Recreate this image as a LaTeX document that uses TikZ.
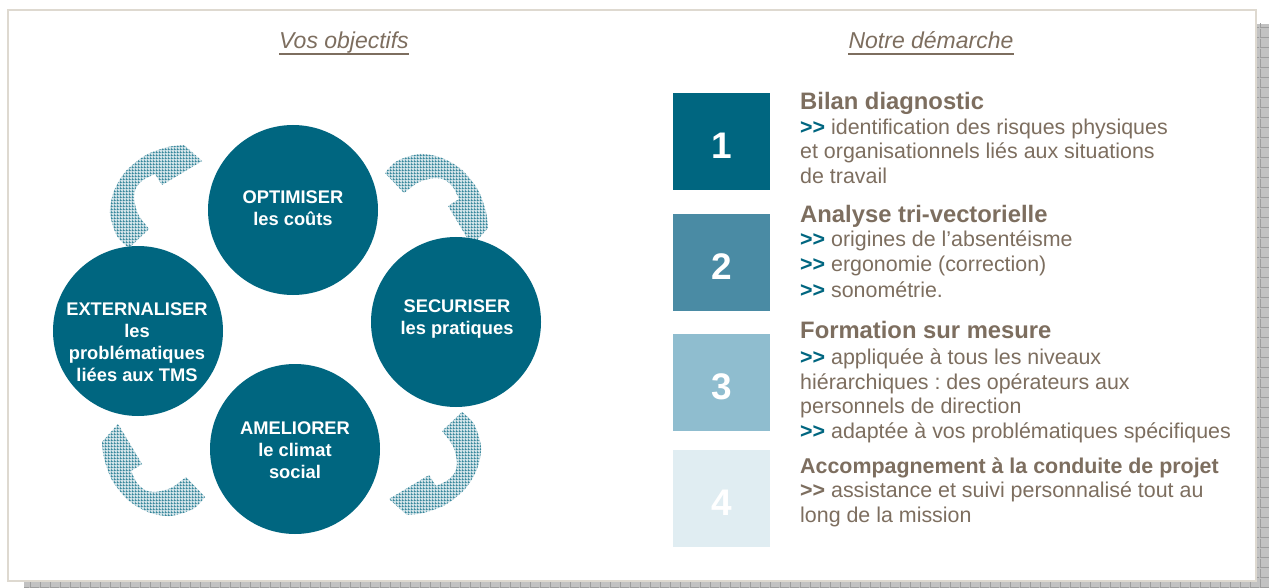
\documentclass[tikz,border=0pt]{standalone}
\usepackage{fontspec}
\setmainfont{Liberation Sans}
\usetikzlibrary{patterns}
\usetikzlibrary{calc}

\definecolor{petrol}{RGB}{0,102,128}
\definecolor{petrolmid}{RGB}{74,139,164}
\definecolor{petrollight}{RGB}{143,189,207}
\definecolor{petrolpale}{RGB}{224,237,242}
\definecolor{taupe}{RGB}{125,110,95}
\definecolor{framegray}{RGB}{222,217,208}

\pgfdeclarepatternformonly{mesh}{\pgfqpoint{0pt}{0pt}}{\pgfqpoint{3pt}{3pt}}{\pgfqpoint{3pt}{3pt}}{%
  \pgfsetlinewidth{0.9pt}
  \pgfpathmoveto{\pgfqpoint{0.5pt}{0pt}}\pgfpathlineto{\pgfqpoint{0.5pt}{3pt}}
  \pgfpathmoveto{\pgfqpoint{0pt}{0.5pt}}\pgfpathlineto{\pgfqpoint{3pt}{0.5pt}}
  \pgfusepath{stroke}}
\pgfdeclarepatternformonly{cells}{\pgfqpoint{0pt}{0pt}}{\pgfqpoint{10pt}{10pt}}{\pgfqpoint{10pt}{10pt}}{%
  \pgfsetlinewidth{1pt}
  \pgfpathmoveto{\pgfqpoint{0.5pt}{0pt}}\pgfpathlineto{\pgfqpoint{0.5pt}{10pt}}
  \pgfpathmoveto{\pgfqpoint{0pt}{0.5pt}}\pgfpathlineto{\pgfqpoint{10pt}{0.5pt}}
  \pgfusepath{stroke}}

\tikzstyle{goal}=[circle,fill=petrol,minimum size=170pt,inner sep=0pt]
\tikzstyle{goaltext}=[text=white,align=center,inner sep=0pt,font=\fontsize{18.3}{22}\selectfont\bfseries]
\tikzstyle{stepbox}=[minimum width=97pt,minimum height=97pt,inner sep=0pt]
\tikzstyle{stepnum}=[inner sep=0pt,text=white,font=\fontsize{37}{40}\selectfont\bfseries]
\tikzstyle{stephead}=[anchor=base west,inner sep=0pt,text=taupe,font=\fontsize{23.8}{28}\selectfont\bfseries]
\tikzstyle{steptext}=[anchor=base west,inner sep=0pt,text=taupe,font=\fontsize{21.4}{24.5}\selectfont\frenchspacing]
\tikzstyle{coltitle}=[anchor=base,inner sep=0pt,text depth=5pt,text=taupe,font=\fontsize{23}{27}\selectfont\itshape]
\tikzstyle{cyclearrow}=[fill=petrol!18,postaction={pattern=mesh,pattern color=petrol!85}]

\newcommand{\chev}[1][petrol]{{\bfseries\color{#1}>{}>}\ }

\begin{document}
\begin{tikzpicture}[x=1pt,y=-1pt]

\useasboundingbox (0,0) rectangle (1269,588);

% shadow and frame
\fill[black!24,postaction={pattern=cells,pattern color=black!38}] (24,24) rectangle (1269,588);
\draw[framegray,line width=2pt,fill=white] (8,10) rectangle (1256,581);

% column titles
\node[coltitle] (objectifs) at (344,49) {Vos objectifs};
\node[coltitle] (demarche) at (931,49) {Notre démarche};
\draw[taupe,line width=1.8pt] (objectifs.south west) -- (objectifs.south east);
\draw[taupe,line width=1.8pt] (demarche.south west) -- (demarche.south east);

% curved arrows of the cycle
\foreach \ang/\dx/\dy in {0/0/0, -90/10/-8, -180/0/10, -270/-9/8}
  \fill[cyclearrow,shift={(295+\dx,330+\dy)},rotate=\ang]
    plot[smooth] coordinates {(90,-157) (102,-169) (125,-176) (147,-172) (167,-160) (183,-140) (191,-118) (193,-102)}
    -- (177,-84) -- (153,-124)
    -- plot[smooth] coordinates {(164,-131) (158,-143) (150,-150) (140,-152) (124,-148) (109,-137)} -- cycle;

% objectives
\node[goal] (optimiser) at (293,210) {};
\node[goal] (securiser) at (456,322) {};
\node[goal] (externaliser) at (138,331) {};
\node[goal] (ameliorer) at (295,449) {};

\node[goaltext] (optimiser-t) at (293,208.5) {OPTIMISER\\les coûts};
\node[goaltext] (securiser-t) at (457,319.5) {SECURISER\\les pratiques};
\node[goaltext] (externaliser-t) at (137,342) {EXTERNALISER\\les\\problématiques\\liées aux TMS};
\node[goaltext] (ameliorer-t) at (295,450) {AMELIORER\\le climat\\social};

% steps
\foreach \pos/\col/\num in {{(721.5,141.5)/petrol/1}, {(721.5,262.5)/petrolmid/2}, {(721.5,382.5)/petrollight/3}, {(721.5,498.5)/petrolpale/4}}{
  \node[stepbox,fill=\col] (step\num) at \pos {};
  \node[stepnum] (num\num) at ($(step\num)+(0,4)$) {\num};
}

\node[stephead] (head1) at (800,110) {Bilan diagnostic};
\node[steptext] (text1a) at (800,135) {\chev identification des risques physiques};
\node[steptext] (text1b) at (800,159) {et organisationnels liés aux situations};
\node[steptext] (text1c) at (800,184) {de travail};

\node[stephead] (head2) at (800,223) {Analyse tri-vectorielle};
\node[steptext] (text2a) at (800,247) {\chev origines de l’absentéisme};
\node[steptext] (text2b) at (800,272) {\chev ergonomie (correction)};
\node[steptext] (text2c) at (800,297) {\chev sonométrie.};

\node[stephead] (head3) at (800,338) {Formation sur mesure};
\node[steptext] (text3a) at (800,364) {\chev appliquée à tous les niveaux};
\node[steptext] (text3b) at (800,389) {hiérarchiques : des opérateurs aux};
\node[steptext] (text3c) at (800,413) {personnels de direction};
\node[steptext] (text3d) at (800,438) {\chev adaptée à vos problématiques spécifiques};

\node[stephead,font=\fontsize{21.4}{24.5}\selectfont\bfseries] (head4) at (800,473) {Accompagnement à la conduite de projet};
\node[steptext] (text4a) at (800,497) {\chev[taupe]assistance et suivi personnalisé tout au};
\node[steptext] (text4b) at (800,522) {long de la mission};

\end{tikzpicture}
\end{document}
